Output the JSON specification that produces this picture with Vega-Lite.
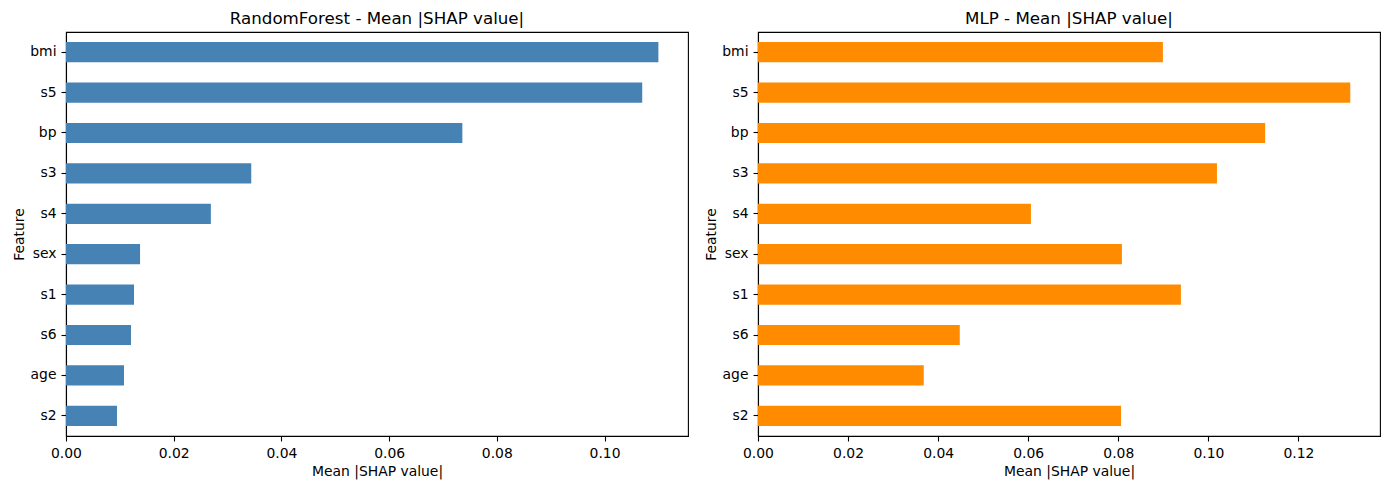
{
  "$schema": "https://vega.github.io/schema/vega-lite/v6.json",
  "padding": {"left": 11, "top": 10, "right": 9, "bottom": 5},
  "background": "white",
  "datasets": {
    "rf": [
      {"feature": "bmi", "value": 0.1100},
      {"feature": "s5", "value": 0.1070},
      {"feature": "bp", "value": 0.0736},
      {"feature": "s3", "value": 0.0344},
      {"feature": "s4", "value": 0.0269},
      {"feature": "sex", "value": 0.01375},
      {"feature": "s1", "value": 0.01263},
      {"feature": "s6", "value": 0.01207},
      {"feature": "age", "value": 0.01077},
      {"feature": "s2", "value": 0.00947}
    ],
    "mlp": [
      {"feature": "bmi", "value": 0.0899},
      {"feature": "s5", "value": 0.1315},
      {"feature": "bp", "value": 0.1126},
      {"feature": "s3", "value": 0.1019},
      {"feature": "s4", "value": 0.0606},
      {"feature": "sex", "value": 0.0808},
      {"feature": "s1", "value": 0.0939},
      {"feature": "s6", "value": 0.0448},
      {"feature": "age", "value": 0.0368},
      {"feature": "s2", "value": 0.0806}
    ]
  },
  "config": {
    "font": "DejaVu Sans",
    "view": {"stroke": "black", "strokeWidth": 1.1},
    "axis": {
      "labelFont": "DejaVu Sans",
      "titleFont": "DejaVu Sans",
      "labelFontSize": 13.9,
      "titleFontSize": 13.9,
      "titleFontWeight": "normal",
      "labelColor": "black",
      "titleColor": "black",
      "domainColor": "black",
      "domainWidth": 1.1,
      "tickColor": "black",
      "tickWidth": 1.1,
      "tickSize": 5,
      "labelPadding": 5,
      "grid": false
    },
    "title": {
      "font": "DejaVu Sans",
      "fontSize": 16.7,
      "fontWeight": "normal",
      "color": "black",
      "anchor": "middle",
      "baseline": "alphabetic",
      "offset": 4
    }
  },
  "spacing": 14,
  "hconcat": [
    {
      "width": 622,
      "height": 404,
      "title": "RandomForest - Mean |SHAP value|",
      "data": {"name": "rf"},
      "mark": {"type": "bar", "color": "#4682b4"},
      "encoding": {
        "y": {
          "field": "feature",
          "type": "nominal",
          "sort": ["bmi", "s5", "bp", "s3", "s4", "sex", "s1", "s6", "age", "s2"],
          "scale": {"paddingInner": 0.5, "paddingOuter": 0.25},
          "axis": {"title": "Feature", "labelAngle": 0, "minExtent": 34, "maxExtent": 34, "titlePadding": 6}
        },
        "x": {
          "field": "value",
          "type": "quantitative",
          "scale": {"domain": [0, 0.1155], "nice": false, "zero": true},
          "axis": {"title": "Mean |SHAP value|", "values": [0, 0.02, 0.04, 0.06, 0.08, 0.10], "format": ".2f", "titlePadding": 5, "labelFlush": false}
        }
      }
    },
    {
      "width": 622,
      "height": 404,
      "title": "MLP - Mean |SHAP value|",
      "data": {"name": "mlp"},
      "mark": {"type": "bar", "color": "#ff8c00"},
      "encoding": {
        "y": {
          "field": "feature",
          "type": "nominal",
          "sort": ["bmi", "s5", "bp", "s3", "s4", "sex", "s1", "s6", "age", "s2"],
          "scale": {"paddingInner": 0.5, "paddingOuter": 0.25},
          "axis": {"title": "Feature", "labelAngle": 0, "minExtent": 34, "maxExtent": 34, "titlePadding": 6}
        },
        "x": {
          "field": "value",
          "type": "quantitative",
          "scale": {"domain": [0, 0.1381], "nice": false, "zero": true},
          "axis": {"title": "Mean |SHAP value|", "values": [0, 0.02, 0.04, 0.06, 0.08, 0.10, 0.12], "format": ".2f", "titlePadding": 5, "labelFlush": false}
        }
      }
    }
  ]
}
